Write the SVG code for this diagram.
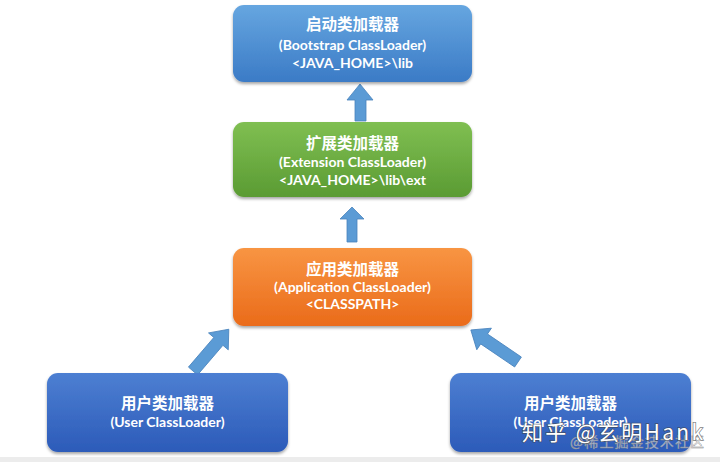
<svg xmlns="http://www.w3.org/2000/svg" width="720" height="462" viewBox="0 0 720 462">
<defs>
<linearGradient id="gBlue" x1="0" y1="0" x2="0" y2="1"><stop offset="0" stop-color="#66a6e0"/><stop offset="1" stop-color="#3b7bc6"/></linearGradient>
<linearGradient id="gGreen" x1="0" y1="0" x2="0" y2="1"><stop offset="0" stop-color="#80bf52"/><stop offset="1" stop-color="#5a9b33"/></linearGradient>
<linearGradient id="gOrange" x1="0" y1="0" x2="0" y2="1"><stop offset="0" stop-color="#f89543"/><stop offset="1" stop-color="#ea6b1a"/></linearGradient>
<linearGradient id="gDark" x1="0" y1="0" x2="0" y2="1"><stop offset="0" stop-color="#4d7fd2"/><stop offset="1" stop-color="#2c5bb9"/></linearGradient>
<filter id="sh" x="-10%" y="-10%" width="120%" height="130%"><feDropShadow dx="0" dy="2" stdDeviation="1.6" flood-color="#000" flood-opacity="0.35"/></filter>
</defs>
<style>
.box{filter:url(#sh)}
.t{font-family:"Noto Sans CJK SC","Noto Sans",sans-serif;font-weight:bold;font-size:15.5px;fill:#fff;text-anchor:middle}
.e{font-family:Lato,"Noto Sans CJK SC",sans-serif;font-weight:bold;font-size:14px;fill:#fff;text-anchor:middle}
.arr{fill:#5b9bd5;stroke:#4a84bd;stroke-width:0.8}
</style>
<rect x="0" y="0" width="720" height="462" fill="#ffffff"/>
<rect x="0" y="457" width="720" height="5" fill="#ececec"/>
<g id="connectors">
<polygon class="arr" points="360,84 373,100 366,100 366,121 355,121 355,100 347,100"/>
<polygon class="arr" points="352,207 364,219 357,219 357,242 347,242 347,219 340,219"/>
<polygon class="arr" transform="translate(193,371) rotate(-49.4)" points="0,-6 39,-6 39,-13 55,0 39,13 39,6 0,6"/>
<polygon class="arr" transform="translate(518,362) rotate(-145.8)" points="0,-6 41,-6 41,-13 57,0 41,13 41,6 0,6"/>
</g>
<g id="bootstrap">
<rect class="box" x="233" y="5" width="239" height="77" rx="11" fill="url(#gBlue)"/>
<text class="t" x="352.5" y="30">启动类加载器</text>
<text class="e" x="352.5" y="50">(Bootstrap ClassLoader)</text>
<text class="e" x="352.5" y="68">&lt;JAVA_HOME&gt;\lib</text>
</g>
<g id="extension">
<rect class="box" x="233" y="122" width="239" height="75" rx="11" fill="url(#gGreen)"/>
<text class="t" x="352.5" y="149">扩展类加载器</text>
<text class="e" x="352.5" y="167">(Extension ClassLoader)</text>
<text class="e" x="352.5" y="185">&lt;JAVA_HOME&gt;\lib\ext</text>
</g>
<g id="application">
<rect class="box" x="233" y="248" width="239" height="78" rx="11" fill="url(#gOrange)"/>
<text class="t" x="352.5" y="275">应用类加载器</text>
<text class="e" x="352.5" y="292">(Application ClassLoader)</text>
<text class="e" x="352.5" y="309">&lt;CLASSPATH&gt;</text>
</g>
<g id="user1">
<rect class="box" x="47" y="373" width="241" height="79" rx="11" fill="url(#gDark)"/>
<text class="t" x="167.5" y="409">用户类加载器</text>
<text class="e" x="167.5" y="427">(User ClassLoader)</text>
</g>
<g id="user2">
<rect class="box" x="450" y="373" width="241" height="79" rx="11" fill="url(#gDark)"/>
<text class="t" x="570.5" y="409">用户类加载器</text>
<text class="e" x="570.5" y="427">(User ClassLoader)</text>
</g>
<g id="watermark">
<text x="570" y="447" font-family="Noto Sans CJK SC,sans-serif" font-size="14" fill="#ffffff" fill-opacity="0.6" stroke="#888" stroke-width="0.4" textLength="134">@稀土掘金技术社区</text>
<text x="522" y="440" font-family="Noto Sans CJK SC,sans-serif" font-size="21" fill="#ffffff" stroke="#444" stroke-width="1.4" stroke-opacity="0.7" paint-order="stroke" textLength="181">知乎 @玄明Hank</text>
</g>
</svg>
